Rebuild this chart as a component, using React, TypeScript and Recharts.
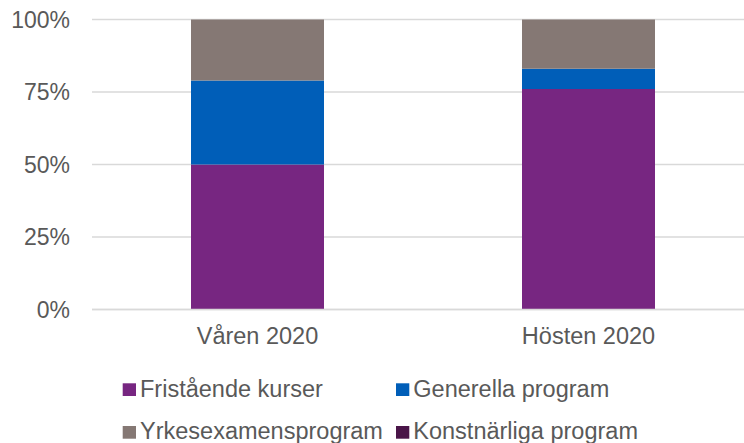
import React from "react";
import { BarChart, Bar, XAxis, YAxis, CartesianGrid } from "recharts";

const categories = ["Våren 2020", "Hösten 2020"];
const seriesNames = ["Fristående kurser", "Generella program", "Yrkesexamensprogram", "Konstnärliga program"];
const seriesKeys = ["fri", "gen", "yrk", "kon"];
const seriesColors = ["#772681", "#005EB8", "#857874", "#4A1548"];
const friValues = [50, 76];
const genValues = [29, 7];
const yrkValues = [21, 17];
const konValues = [0, 0];
const yTicks = [0, 25, 50, 75, 100];

const allValues = [friValues, genValues, yrkValues, konValues];
const data = categories.map((c, i) => {
  const row: Record<string, string | number> = { name: c };
  seriesKeys.forEach((k, s) => {
    row[k] = allValues[s][i];
  });
  return row;
});

const textColor = "#595959";
const font = "'Liberation Sans', Arial, sans-serif";

const legendPos = [
  { x: 122.7, y: 396.7 },
  { x: 396, y: 396.7 },
  { x: 122.7, y: 439.4 },
  { x: 396, y: 439.4 },
];

export default function App() {
  return (
    <div style={{ position: "fixed", left: 0, top: 0, width: 744, height: 443, overflow: "hidden", background: "#fff" }}>
      <BarChart
        width={770}
        height={443}
        data={data}
        margin={{ top: 19.5, right: 16, bottom: 73.5, left: 0 }}
        style={{ fontFamily: font }}
      >
        <CartesianGrid vertical={false} stroke="#D9D9D9" strokeWidth={1.3} />
        <XAxis
          dataKey="name"
          height={60}
          tickLine={false}
          tickSize={0}
          tickMargin={18}
          axisLine={{ stroke: "#D9D9D9", strokeWidth: 1.3 }}
          tick={{ fill: textColor, fontSize: 23.5, fontFamily: font }}
        />
        <YAxis
          width={92}
          domain={[0, 100]}
          ticks={yTicks}
          tickFormatter={(v: number) => `${v}%`}
          axisLine={false}
          tickLine={false}
          tickSize={0}
          tickMargin={22}
          tick={{ fill: textColor, fontSize: 23, fontFamily: font }}
        />
        {seriesKeys.map((k, i) => (
          <Bar key={k} dataKey={k} name={seriesNames[i]} stackId="a" fill={seriesColors[i]} barSize={133} isAnimationActive={false} />
        ))}
      </BarChart>
      <svg width={744} height={443} style={{ position: "absolute", left: 0, top: 0, pointerEvents: "none" }}>
        {seriesNames.map((n, i) => (
          <g key={n}>
            <rect x={legendPos[i].x} y={legendPos[i].y - 13.4} width={13.3} height={12.7} fill={seriesColors[i]} />
            <text x={legendPos[i].x + 17.3} y={legendPos[i].y} fill={textColor} fontSize={23.5} fontFamily={font}>
              {n}
            </text>
          </g>
        ))}
      </svg>
    </div>
  );
}
